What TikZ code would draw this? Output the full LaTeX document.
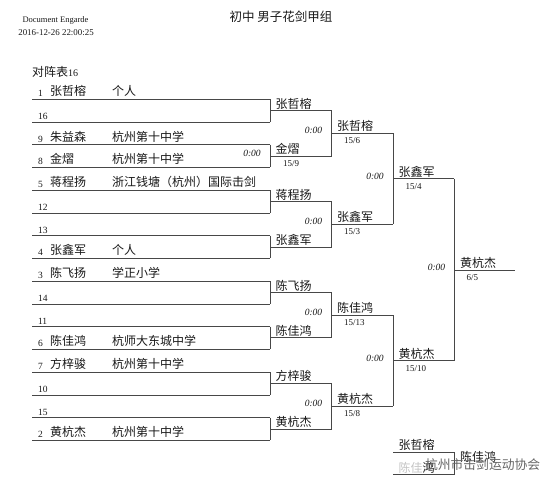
\documentclass[tikz,border=0pt]{standalone}
\usepackage{fontspec}
\setmainfont{Liberation Serif}
\newfontfamily\cjk{Noto Sans CJK SC}
\definecolor{ln}{gray}{0.28}
\tikzset{x=1pt,y=-1pt,
 every node/.style={inner sep=0pt,outer sep=0pt,text=black!90},
 seedlab/.style={anchor=base west,font=\fontsize{9.5}{11}\selectfont},
 pname/.style={anchor=base west,font=\cjk\fontsize{12}{14}\selectfont},
 club/.style={anchor=base west,font=\cjk\fontsize{12}{14}\selectfont},
 scorelab/.style={anchor=base west,font=\fontsize{9}{11}\selectfont},
 tm/.style={anchor=base,font=\itshape\fontsize{9.5}{11}\selectfont},
 br/.style={draw=ln,line width=0.8pt},
 wm/.style={anchor=base west,font=\cjk\fontsize{12.8}{15}\selectfont,text=black!60}}
\begin{document}
\begin{tikzpicture}
\useasboundingbox (0,0) rectangle (557,490);
\fill[white] (0,0) rectangle (557,490);
\node[anchor=base,font=\fontsize{8.5}{10}\selectfont] (h1) at (55.5,22.5) {Document Engarde};
\node[anchor=base,font=\fontsize{8.9}{10}\selectfont] (h2) at (56,35.5) {2016-12-26 22:00:25};
\node[anchor=base,font=\cjk\fontsize{12.5}{14}\selectfont] (title) at (281,21) {初中 男子花剑甲组};
\node[anchor=base west,font=\cjk\fontsize{12}{14}\selectfont] (tab) at (32,76) {对阵表\fontsize{10}{11}\selectfont\rmfamily 16};
% round 1
\foreach \s/\n/\c/\y/\i in {
 1/张哲榕/个人/99/a1,16///122/a2,
 9/朱益森/杭州第十中学/144.5/a3,8/金熠/杭州第十中学/167/a4,
 5/蒋程扬/浙江钱塘（杭州）国际击剑/190/a5,12///213/a6,
 13///235.7/a7,4/张鑫军/个人/258.2/a8,
 3/陈飞扬/学正小学/281/a9,14///304/a10,
 11///326.7/a11,6/陈佳鸿/杭师大东城中学/349/a12,
 7/方梓骏/杭州第十中学/372/a13,10///395/a14,
 15///417.7/a15,2/黄杭杰/杭州第十中学/440.3/a16}{
 \coordinate (\i) at (32,\y);
 \coordinate (\i e) at (270,\y);
 \node[seedlab] at (38,\y-2.5) {\s};
 \node[pname] at (50,\y-3.5) {\n};
 \node[club] at (112,\y-3.5) {\c};
 \draw[br] (\i) -- (\i e);
}
\foreach \p/\q/\r/\m in {a1/a2/r1/110.7,a3/a4/r2/156,a5/a6/r3/201.7,a7/a8/r4/247,a9/a10/r5/292.7,a11/a12/r6/337.7,a13/a14/r7/383.3,a15/a16/r8/429}{
 \coordinate (\r) at (270,\m);
 \coordinate (\r e) at (331.7,\m);
 \draw[br] (\p e) -- (\q e);
 \draw[br] (\r) -- (\r e);
}
\foreach \n/\y in {张哲榕/110.7,金熠/156,蒋程扬/201.7,张鑫军/247,陈飞扬/292.7,陈佳鸿/337.7,方梓骏/383.3,黄杭杰/429}
 \node[pname] at (275.5,\y-2.5) {\n};
\node[scorelab] at (283,166) {15/9};
\node[tm] at (252,156.5) {0:00};
\foreach \y in {133.3,224.3,315.3,406.3} \node[tm] at (313.5,\y+0.4) {0:00};
% round 2 -> 3
\foreach \p/\q/\r/\m in {r1/r2/s1/133.3,r3/r4/s2/224.3,r5/r6/s3/315.3,r7/r8/s4/406.3}{
 \coordinate (\r) at (331.7,\m);
 \coordinate (\r e) at (393,\m);
 \draw[br] (\p e) -- (\q e);
 \draw[br] (\r) -- (\r e);
}
\foreach \n/\sc/\y in {张哲榕/15\slash 6/133.3,张鑫军/15\slash 3/224.3,陈佳鸿/15\slash 13/315.3,黄杭杰/15\slash 8/406.3}{
 \node[pname] at (337,\y-2.5) {\n};
 \node[scorelab] at (344,\y+10.5) {\sc};
}
\foreach \y in {178.7,360.7} \node[tm] at (375,\y+0.4) {0:00};
% round 3 -> 4
\foreach \p/\q/\r/\m in {s1/s2/t1/178.7,s3/s4/t2/360.7}{
 \coordinate (\r) at (393,\m);
 \coordinate (\r e) at (454.3,\m);
 \draw[br] (\p e) -- (\q e);
 \draw[br] (\r) -- (\r e);
}
\foreach \n/\sc/\y in {张鑫军/15\slash 4/178.7,黄杭杰/15\slash 10/360.7}{
 \node[pname] at (398.5,\y-2.5) {\n};
 \node[scorelab] at (405.5,\y+10.5) {\sc};
}
% final
\coordinate (f) at (454.3,270);
\coordinate (fe) at (515.3,270);
\draw[br] (t1e) -- (t2e);
\draw[br] (f) -- (fe);
\node[pname] at (460,267.5) {黄杭杰};
\node[scorelab] at (466.5,280.5) {6/5};
\node[tm] at (436.5,270.4) {0:00};
% third place
\coordinate (b1) at (393,452);
\coordinate (b1e) at (454.3,452);
\coordinate (b2) at (393,474.3);
\coordinate (b2e) at (454.3,474.3);
\draw[br] (b1) -- (b1e) -- (b2e) -- (b2);
\node[pname] at (398.5,449.5) {张哲榕};
\node[pname] at (398.5,472) {陈佳鸿};
\node[pname] at (460,461.5) {陈佳鸿};
\fill[white,opacity=0.75] (393,453) rectangle (423,473);
\node[wm] at (425,469) {杭州市击剑运动协会};
\end{tikzpicture}
\end{document}
